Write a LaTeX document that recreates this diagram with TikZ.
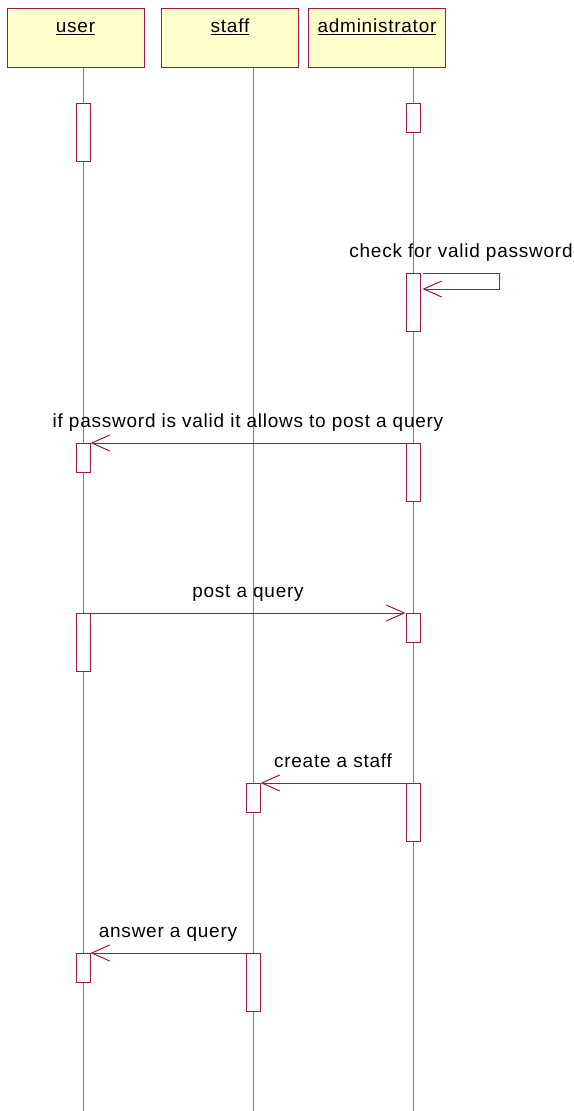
\documentclass[tikz,border=0pt]{standalone}
\usepackage{fontspec}
\setmainfont{Liberation Sans}[LetterSpace=4]
\usetikzlibrary{arrows.meta,calc}

\definecolor{umlred}{RGB}{160,24,72}
\definecolor{umlyellow}{RGB}{255,255,204}

\begin{document}
\begin{tikzpicture}[x=1pt,y=1pt,
  font=\fontsize{19}{22}\selectfont,
  head/.style={draw=umlred, fill=umlyellow, line width=1pt, anchor=north,
    minimum width=137, inner ysep=4, text height=20, text depth=31},
  lifeline/.style={gray, line width=0.8pt},
  act/.style={draw=umlred, fill=white, line width=1pt, anchor=north,
    minimum width=14, inner sep=0},
  msg/.style={draw=umlred, line width=1pt, -{Straight Barb[length=18pt,width=16pt]}},
  msglbl/.style={anchor=base, yshift=16, text=black}]
\useasboundingbox (0,0) rectangle (573,-1111);

% objects
\node[head] (user) at (75.5,-8) {\underline{user}};
\node[head] (staff) at (230,-8) {\underline{staff}};
\node[head] (admin) at (377,-8) {\underline{administrator}};

\coordinate (userend) at (83,-1111);
\coordinate (staffend) at (253,-1111);
\coordinate (adminend) at (413,-1111);

\draw[lifeline] (user.south -| userend) -- (userend);
\draw[lifeline] (staff.south -| staffend) -- (staffend);
\draw[lifeline] (admin.south -| adminend) -- (adminend);

% activations
\node[act, minimum height=58] (u1) at (83,-103) {};
\node[act, minimum height=29] (a1) at (413,-103) {};
\node[act, minimum height=58] (a2) at (413,-273) {};
\node[act, minimum height=29] (u2) at (83,-443) {};
\node[act, minimum height=58] (a3) at (413,-443) {};
\node[act, minimum height=58] (u3) at (83,-613) {};
\node[act, minimum height=29] (a4) at (413,-613) {};
\node[act, minimum height=29] (s1) at (253,-783) {};
\node[act, minimum height=58] (a5) at (413,-783) {};
\node[act, minimum height=29] (u4) at (83,-953) {};
\node[act, minimum height=58] (s2) at (253,-953) {};

% messages
\coordinate (selftop) at ($(a2.north east)+(79,0)$);
\draw[msg] ($(a2.north east)+(2,0)$) -- (selftop)
  node[midway, msglbl] {check for valid password}
  -- ++(0,-16) -- ($(a2.north east)+(2,-16)$);
\draw[msg] (a3.north west) -- (u2.north east)
  node[midway, msglbl] {if password is valid it allows to post a query};
\draw[msg] (u3.north east) -- (a4.north west)
  node[midway, msglbl] {post a query};
\draw[msg] (a5.north west) -- (s1.north east)
  node[midway, msglbl] {create a staff};
\draw[msg] (s2.north west) -- (u4.north east)
  node[midway, msglbl] {answer a query};
\end{tikzpicture}
\end{document}
